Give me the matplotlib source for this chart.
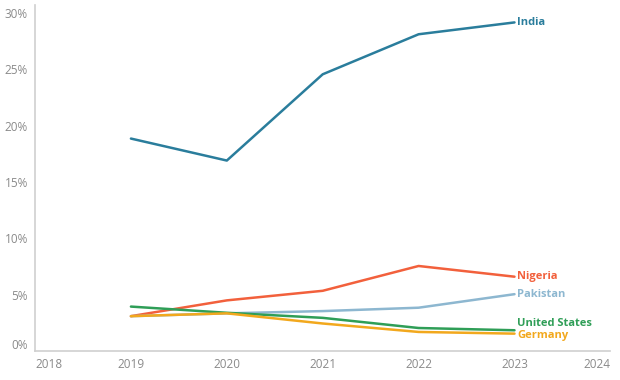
import matplotlib
matplotlib.use("Agg")
import matplotlib.pyplot as plt
import matplotlib.transforms as mtransforms

plt.rcParams['font.family'] = ['Open Sans', 'DejaVu Sans']

# data (share, %)
years = [2019, 2020, 2021, 2022, 2023]
india = [18.85, 16.9, 24.55, 28.1, 29.15]
nigeria = [3.1, 4.5, 5.35, 7.55, 6.6]
pakistan = [3.1, 3.35, 3.55, 3.85, 5.05]
united_states = [3.95, 3.4, 2.95, 2.05, 1.85]
germany = [3.1, 3.35, 2.45, 1.7, 1.55]

names = ['India', 'Nigeria', 'Pakistan', 'United States', 'Germany']
series = [india, nigeria, pakistan, united_states, germany]
colors = ['#2a7d9c', '#f2603c', '#8db7d0', '#2f9e57', '#f2a81d']
label_dy = [0, 0, 0, 5, -1]  # small nudges (points) so end labels don't overlap

xticks = [2018, 2019, 2020, 2021, 2022, 2023, 2024]
yticks = [0, 5, 10, 15, 20, 25, 30]

fig = plt.figure(figsize=(6.2, 3.8), dpi=100)
ax = fig.add_axes([0.0565, 0.076, 0.928, 0.911])

for name, vals, c, dy in zip(names, series, colors, label_dy):
    ax.plot(years, vals, color=c, lw=1.8, solid_capstyle='round', solid_joinstyle='round')
    off = mtransforms.offset_copy(ax.transData, fig=fig, x=2, y=dy, units='points')
    ax.text(years[-1], vals[-1], name, color=c, fontsize=8, fontweight='bold',
            ha='left', va='center', transform=off)

ax.set_xlim(2018, 2024)
ax.set_ylim(0, 30.7)
ax.set_xticks(xticks)
ax.set_xticklabels([str(x) for x in xticks])
ax.set_yticks(yticks)
ax.set_yticklabels([f'{y}%' for y in yticks])
ax.tick_params(length=0, labelsize=8.5, labelcolor='#8a8a8a', pad=5)

xl = ax.get_xticklabels()
xl[0].set_ha('left')
xl[-1].set_ha('right')
# the 0% label sits a little above the axis line
yl = ax.get_yticklabels()
yl[0].set_transform(yl[0].get_transform() + mtransforms.ScaledTranslation(0, 5 / 72, fig.dpi_scale_trans))

for s in ['top', 'right']:
    ax.spines[s].set_visible(False)
for s in ['left', 'bottom']:
    ax.spines[s].set_color('#cfcfcf')
    ax.spines[s].set_linewidth(1.2)

fig.savefig('out.png', dpi=100)
